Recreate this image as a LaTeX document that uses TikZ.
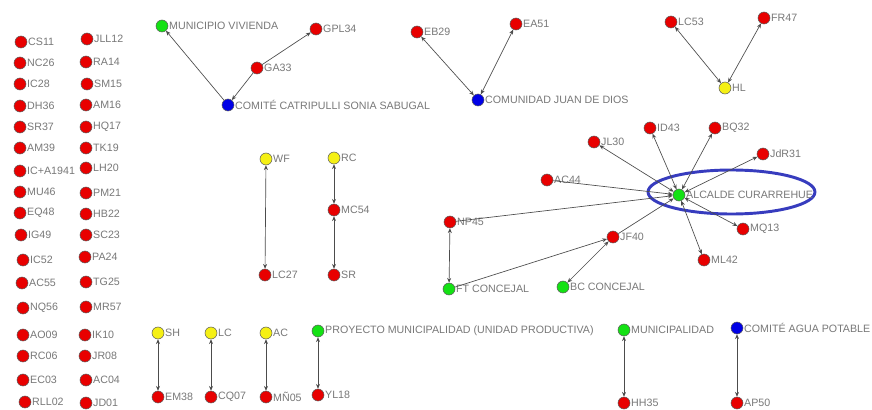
\documentclass[tikz,border=0pt]{standalone}
\usepackage{fontspec}
\setmainfont{Liberation Sans}
\usetikzlibrary{arrows.meta}
\definecolor{rd}{RGB}{232,0,0}
\definecolor{gr}{RGB}{20,225,20}
\definecolor{bl}{RGB}{0,0,230}
\definecolor{yl}{RGB}{245,240,20}
\definecolor{lbl}{RGB}{120,120,120}
\definecolor{ring}{RGB}{55,60,190}
\tikzset{
  v/.style={circle,draw=black!65,line width=0.4pt,minimum size=9pt,inner sep=0pt,
    label distance=0.3pt},
  rn/.style={v,fill=rd},
  gn/.style={v,fill=gr},
  bn/.style={v,fill=bl},
  yn/.style={v,fill=yl},
  lab/.style={font=\fontsize{8}{9}\selectfont,text=lbl,inner sep=0.5pt},
  every label/.style={lab},
  e/.style={draw=black!70,line width=0.5pt,arrows={-},>={Stealth[length=3.6pt,width=3pt]}},
}
\begin{document}
\begin{tikzpicture}[x=0.75pt,y=-0.75pt]
\useasboundingbox[fill=white] (0,0) rectangle (872,410);
% left columns
\node[rn,label=right:CS11] (cs11) at (21,42) {};
\node[rn,label=right:NC26] (nc26) at (20,63) {};
\node[rn,label=right:IC28] (ic28) at (20,84) {};
\node[rn,label=right:DH36] (dh36) at (20,106) {};
\node[rn,label=right:SR37] (sr37) at (20,127) {};
\node[rn,label=right:AM39] (am39) at (20,148) {};
\node[rn,label=right:IC+A1941] (ica) at (20,171) {};
\node[rn,label=right:MU46] (mu46) at (20,192) {};
\node[rn,label=right:EQ48] (eq48) at (20,213) {};
\node[rn,label=right:IG49] (ig49) at (21,235) {};
\node[rn,label=right:IC52] (ic52) at (23,260) {};
\node[rn,label=right:AC55] (ac55) at (22,283) {};
\node[rn,label=right:NQ56] (nq56) at (23,308) {};
\node[rn,label=right:AO09] (ao09) at (23,335) {};
\node[rn,label=right:RC06] (rc06) at (23,356) {};
\node[rn,label=right:EC03] (ec03) at (23,380) {};
\node[rn,label=right:RLL02] (rll02) at (25,402) {};
\node[rn,label=right:JLL12] (jll12) at (87,39) {};
\node[rn,label=right:RA14] (ra14) at (86,62) {};
\node[rn,label=right:SM15] (sm15) at (87,84) {};
\node[rn,label=right:AM16] (am16) at (86,105) {};
\node[rn,label=right:HQ17] (hq17) at (86,127) {};
\node[rn,label=right:TK19] (tk19) at (86,148) {};
\node[rn,label=right:LH20] (lh20) at (86,168) {};
\node[rn,label=right:PM21] (pm21) at (86,193) {};
\node[rn,label=right:HB22] (hb22) at (86,214) {};
\node[rn,label=right:SC23] (sc23) at (86,235) {};
\node[rn,label=right:PA24] (pa24) at (85,257) {};
\node[rn,label=right:TG25] (tg25) at (86,282) {};
\node[rn,label=right:MR57] (mr57) at (86,307) {};
\node[rn,label=right:IK10] (ik10) at (85,335) {};
\node[rn,label=right:JR08] (jr08) at (85,356) {};
\node[rn,label=right:AC04] (ac04) at (86,380) {};
\node[rn,label=right:JD01] (jd01) at (86,403) {};
% top groups
\node[gn,label=right:MUNICIPIO VIVIENDA] (munviv) at (162,26) {};
\node[rn,label=right:GPL34] (gpl34) at (316,29) {};
\node[rn,label=right:GA33] (ga33) at (257,68) {};
\node[bn,label=right:COMITÉ CATRIPULLI SONIA SABUGAL] (comite) at (228,105) {};
\node[rn,label=right:EB29] (eb29) at (417,32) {};
\node[rn,label=right:EA51] (ea51) at (516,24) {};
\node[bn,label=right:COMUNIDAD JUAN DE DIOS] (comunidad) at (478,100) {};
\node[rn,label=right:LC53] (lc53) at (671,22) {};
\node[rn,label=right:FR47] (fr47) at (764,18) {};
\node[yn,label=right:HL] (hl) at (725,88) {};
\draw[e,->] (comite) -- (munviv);
\draw[e,->] (ga33) -- (comite);
\draw[e,->] (ga33) -- (gpl34);
\draw[e,<->] (comunidad) -- (eb29);
\draw[e,<->] (comunidad) -- (ea51);
\draw[e,<->] (hl) -- (lc53);
\draw[e,<->] (hl) -- (fr47);
% middle pairs
\node[yn,label=right:WF] (wf) at (266,159) {};
\node[rn,label=right:LC27] (lc27) at (265,275) {};
\node[yn,label=right:RC] (rc) at (334,158) {};
\node[rn,label=right:MC54] (mc54) at (334,210) {};
\node[rn,label=right:SR] (sr) at (334,275) {};
\draw[e,<->] (wf) -- (lc27);
\draw[e,<->] (rc) -- (mc54);
\draw[e,<->] (mc54) -- (sr);
% star
\draw[ring,line width=2.2pt] (731.5,192) ellipse [x radius=62.6pt, y radius=16.5pt];
\node[gn,label=right:ALCALDE CURARREHUE] (alc) at (679,195) {};
\node[rn,label=right:JL30] (jl30) at (594,142) {};
\node[rn,label=right:ID43] (id43) at (650,128) {};
\node[rn,label=right:BQ32] (bq32) at (715,128) {};
\node[rn,label=right:JdR31] (jdr31) at (763,154) {};
\node[rn,label=right:AC44] (ac44) at (547,180) {};
\node[rn,label=right:NP45] (np45) at (450,222) {};
\node[rn,label=right:JF40] (jf40) at (613,237) {};
\node[rn,label=right:MQ13] (mq13) at (743,229) {};
\node[rn,label=right:ML42] (ml42) at (704,260) {};
\node[gn,label=right:FT CONCEJAL] (ft) at (449,289) {};
\node[gn,label=right:BC CONCEJAL] (bc) at (563,287) {};
\foreach \t in {jl30,id43,bq32,jdr31,mq13,ml42} \draw[e,<->] (alc) -- (\t);
\foreach \s in {ac44,np45,jf40} \draw[e,->] (\s) -- (alc);
\draw[e,<->] (np45) -- (ft);
\draw[e,->] (ft) -- (jf40);
\draw[e,<->] (bc) -- (jf40);
% bottom pairs
\node[yn,label=right:SH] (sh) at (158,333) {};
\node[yn,label=right:LC] (lc) at (211,333) {};
\node[yn,label=right:AC] (ac) at (266,333) {};
\node[gn,label=right:PROYECTO MUNICIPALIDAD (UNIDAD PRODUCTIVA)] (proy) at (318,331) {};
\node[rn,label=right:EM38] (em38) at (158,397) {};
\node[rn,label=right:CQ07] (cq07) at (211,397) {};
\node[rn,label=right:MÑ05] (mn05) at (266,397) {};
\node[rn,label=right:YL18] (yl18) at (318,395) {};
\node[gn,label=right:MUNICIPALIDAD] (muni) at (624,330) {};
\node[bn,label=right:COMITÉ AGUA POTABLE] (agua) at (737,328) {};
\node[rn,label=right:HH35] (hh35) at (624,403) {};
\node[rn,label=right:AP50] (ap50) at (737,403) {};
\draw[e,<->] (sh) -- (em38);
\draw[e,<->] (lc) -- (cq07);
\draw[e,<->] (ac) -- (mn05);
\draw[e,<->] (proy) -- (yl18);
\draw[e,<->] (muni) -- (hh35);
\draw[e,<->] (agua) -- (ap50);
\end{tikzpicture}
\end{document}
